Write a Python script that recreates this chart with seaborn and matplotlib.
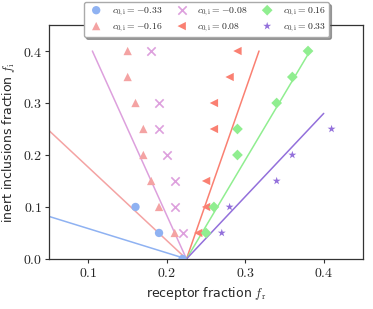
import matplotlib
matplotlib.use("Agg")
import matplotlib.pyplot as plt
import seaborn as sns
import pandas as pd
import numpy as np

sns.set_style("ticks")
plt.rcParams['font.family'] = ['DejaVu Sans']
plt.rcParams['mathtext.fontset'] = 'cm'

labels = [r"$c_{0,\mathrm{i}} = -0.33$", r"$c_{0,\mathrm{i}} = -0.16$", r"$c_{0,\mathrm{i}} = -0.08$",
          r"$c_{0,\mathrm{i}} = 0.08$", r"$c_{0,\mathrm{i}} = 0.16$", r"$c_{0,\mathrm{i}} = 0.33$"]
colors = ["#8fb2f2", "#f4a3a3", "#dda0dd", "#fa8072", "#90ee90", "#9370db"]
markers = ["o", "^", "x", "<", "D", "*"]

fr_m033 = [0.22, 0.19, 0.16]
fi_m033 = [0.00, 0.05, 0.10]
fr_m016 = [0.21, 0.19, 0.18, 0.17, 0.17, 0.16, 0.15, 0.15]
fi_m016 = [0.05, 0.10, 0.15, 0.20, 0.25, 0.30, 0.35, 0.40]
fr_m008 = [0.22, 0.21, 0.21, 0.20, 0.19, 0.19, 0.18]
fi_m008 = [0.05, 0.10, 0.15, 0.20, 0.25, 0.30, 0.40]
fr_p008 = [0.24, 0.25, 0.25, 0.26, 0.26, 0.28, 0.29]
fi_p008 = [0.05, 0.10, 0.15, 0.25, 0.30, 0.35, 0.40]
fr_p016 = [0.25, 0.26, 0.29, 0.29, 0.34, 0.36, 0.38]
fi_p016 = [0.05, 0.10, 0.20, 0.25, 0.30, 0.35, 0.40]
fr_p033 = [0.27, 0.28, 0.34, 0.36, 0.41]
fi_p033 = [0.05, 0.10, 0.15, 0.20, 0.25]

# fitted lines (endpoints)
line_x = [[0.0, 0.225], [0.0, 0.225], [0.105, 0.225], [0.225, 0.3175], [0.225, 0.3825], [0.225, 0.40]]
line_y = [[0.105, 0.0], [0.317, 0.0], [0.40, 0.0], [0.0, 0.40], [0.0, 0.40], [0.0, 0.28]]

pts = [(fr_m033, fi_m033), (fr_m016, fi_m016), (fr_m008, fi_m008),
       (fr_p008, fi_p008), (fr_p016, fi_p016), (fr_p033, fi_p033)]

fig = plt.figure(figsize=(3.73, 3.09), dpi=100)
ax = fig.add_axes([0.132, 0.162, 0.841, 0.757])

sizes = [36, 36, 36, 36, 30, 36]
for i in range(6):
    xs, ys = pts[i]
    df = pd.DataFrame({"x": xs, "y": ys})
    kw = dict(color=colors[i], marker=markers[i], s=sizes[i], label=labels[i], ax=ax, zorder=3)
    if markers[i] == "x":
        kw.update(linewidth=1.2)
    else:
        kw.update(edgecolor="none")
    sns.scatterplot(data=df, x="x", y="y", **kw)
    ldf = pd.DataFrame({"x": line_x[i], "y": line_y[i]})
    sns.lineplot(data=ldf, x="x", y="y", color=colors[i], lw=1.1, ax=ax, zorder=2,
                 legend=False, estimator=None, sort=False)

ax.set_xlim(0.05, 0.45)
ax.set_ylim(0.0, 0.45)
ax.set_xticks([0.1, 0.2, 0.3, 0.4])
ax.set_yticks([0.0, 0.1, 0.2, 0.3, 0.4])
ax.set_xticklabels([r"$0.1$", r"$0.2$", r"$0.3$", r"$0.4$"], fontsize=10)
ax.set_yticklabels([r"$0.0$", r"$0.1$", r"$0.2$", r"$0.3$", r"$0.4$"], fontsize=10)
ax.set_xlabel(r"receptor fraction $f_\mathrm{r}$", fontsize=9)
ax.set_ylabel(r"inert inclusions fraction $f_\mathrm{i}$", fontsize=9)
for s in ax.spines.values():
    s.set_color("#333333")
    s.set_linewidth(0.9)
ax.tick_params(direction="out", length=3, width=0.8, color="#333333", pad=2)

leg = ax.legend(loc="center", bbox_to_anchor=(0.5, 1.025), ncol=3, fontsize=7,
                frameon=True, shadow=True, fancybox=True, handletextpad=0.6,
                columnspacing=1.0, borderpad=0.3, labelspacing=0.3, markerscale=1.0)
leg.get_frame().set_edgecolor("#aaaaaa")
leg.set_zorder(10)

fig.savefig("out.png", dpi=100)
